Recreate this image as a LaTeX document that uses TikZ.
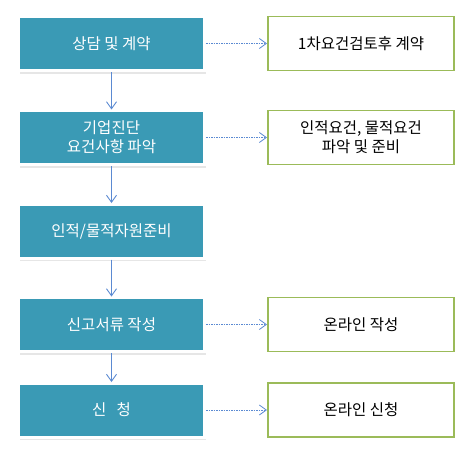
\documentclass[tikz,border=0pt]{standalone}
\usepackage{fontspec}
\setmainfont{Noto Sans CJK KR}
\usetikzlibrary{positioning,arrows.meta,shadows}
\definecolor{stageteal}{HTML}{3A9AB5}
\definecolor{notegreen}{HTML}{9BBB59}
\definecolor{flowblue}{HTML}{5B8AD2}

\begin{document}
\begin{tikzpicture}[x=1pt, y=1pt,
	stage/.style = {fill=stageteal, draw=white, line width=3pt, minimum width=186pt, minimum height=54pt, inner sep=0pt, outer sep=0pt, text=white, align=center, font=\fontsize{15.5}{19}\selectfont, drop shadow={opacity=0.2, shadow xshift=1pt, shadow yshift=-3pt}},
	note/.style = {draw=notegreen, line width=1.2pt, fill=white, minimum width=186pt, minimum height=54pt, inner sep=0pt, outer sep=0pt, align=center, font=\fontsize{15.5}{19}\selectfont},
	flow/.style = {draw=flowblue, line width=0.9pt, shorten <=1.5pt, shorten >=1pt, -{Straight Barb[length=7pt, width=10pt]}},
	aside/.style = {flow, line width=0.8pt, dash pattern=on 1.5pt off 1pt}]
		\useasboundingbox (0,0) rectangle (474,-455);
		\node[stage] (s1) at (111.5,-43.5) {상담 및 계약};
		\node[stage] (s2) [below=40pt of s1] {기업진단\\요건사항 파악};
		\node[stage] (s3) [below=39.5pt of s2] {인적/물적자원준비};
		\node[stage] (s4) [below=39.5pt of s3] {신고서류 작성};
		\node[stage] (s5) [below=31.5pt of s4] {신\ \ \ 청};
		\node[note] (n1) [right=63.5pt of s1] {1차요건검토후 계약};
		\node[note] (n2) [right=63.5pt of s2] {인적요건, 물적요건\\파악 및 준비};
		\node[note] (n3) [right=63.5pt of s4] {온라인 작성};
		\node[note] (n4) [right=63.5pt of s5] {온라인 신청};
		\draw[flow] (s1) to (s2);
		\draw[flow] (s2) to (s3);
		\draw[flow] (s3) to (s4);
		\draw[flow] (s4) to (s5);
		\draw[aside] (s1) to (n1);
		\draw[aside] (s2) to (n2);
		\draw[aside] (s4) to (n3);
		\draw[aside] (s5) to (n4);

	\end{tikzpicture}
\end{document}
